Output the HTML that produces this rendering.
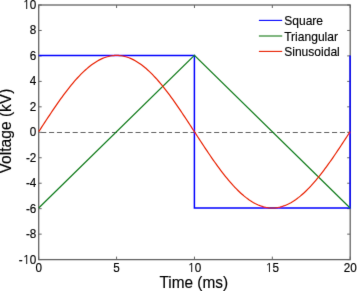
<!DOCTYPE html>
<html><head><meta charset="utf-8"><style>
html,body{margin:0;padding:0;background:#fff;}
svg{display:block;}
.o{font-family:"NanumGothic",sans-serif;}
text{font-family:"Liberation Sans",Arial,sans-serif;fill:#000;stroke:#000;stroke-width:0.15px;}
</style></head><body>
<svg width="357" height="291" viewBox="0 0 357 291">
<defs><filter id="b" x="0" y="0" width="357" height="291" filterUnits="userSpaceOnUse"><feConvolveMatrix order="3" kernelMatrix="0.0052 0.0619 0.0052 0.0619 0.7314 0.0619 0.0052 0.0619 0.0052" edgeMode="duplicate"/></filter></defs>
<rect width="357" height="291" fill="#fff"/>
<g filter="url(#b)">
<line x1="38.7" y1="259.6" x2="38.7" y2="256.6" stroke="#646464"/>
<line x1="38.7" y1="5" x2="38.7" y2="8" stroke="#646464"/>
<line x1="116.58" y1="259.6" x2="116.58" y2="256.6" stroke="#646464"/>
<line x1="116.58" y1="5" x2="116.58" y2="8" stroke="#646464"/>
<line x1="194.45" y1="259.6" x2="194.45" y2="256.6" stroke="#646464"/>
<line x1="194.45" y1="5" x2="194.45" y2="8" stroke="#646464"/>
<line x1="272.32" y1="259.6" x2="272.32" y2="256.6" stroke="#646464"/>
<line x1="272.32" y1="5" x2="272.32" y2="8" stroke="#646464"/>
<line x1="350.2" y1="259.6" x2="350.2" y2="256.6" stroke="#646464"/>
<line x1="350.2" y1="5" x2="350.2" y2="8" stroke="#646464"/>
<line x1="38.7" y1="259.6" x2="41.7" y2="259.6" stroke="#646464"/>
<line x1="350.2" y1="259.6" x2="347.2" y2="259.6" stroke="#646464"/>
<line x1="38.7" y1="234.14" x2="41.7" y2="234.14" stroke="#646464"/>
<line x1="350.2" y1="234.14" x2="347.2" y2="234.14" stroke="#646464"/>
<line x1="38.7" y1="208.68" x2="41.7" y2="208.68" stroke="#646464"/>
<line x1="350.2" y1="208.68" x2="347.2" y2="208.68" stroke="#646464"/>
<line x1="38.7" y1="183.22" x2="41.7" y2="183.22" stroke="#646464"/>
<line x1="350.2" y1="183.22" x2="347.2" y2="183.22" stroke="#646464"/>
<line x1="38.7" y1="157.76" x2="41.7" y2="157.76" stroke="#646464"/>
<line x1="350.2" y1="157.76" x2="347.2" y2="157.76" stroke="#646464"/>
<line x1="38.7" y1="132.3" x2="41.7" y2="132.3" stroke="#646464"/>
<line x1="350.2" y1="132.3" x2="347.2" y2="132.3" stroke="#646464"/>
<line x1="38.7" y1="106.84" x2="41.7" y2="106.84" stroke="#646464"/>
<line x1="350.2" y1="106.84" x2="347.2" y2="106.84" stroke="#646464"/>
<line x1="38.7" y1="81.38" x2="41.7" y2="81.38" stroke="#646464"/>
<line x1="350.2" y1="81.38" x2="347.2" y2="81.38" stroke="#646464"/>
<line x1="38.7" y1="55.92" x2="41.7" y2="55.92" stroke="#646464"/>
<line x1="350.2" y1="55.92" x2="347.2" y2="55.92" stroke="#646464"/>
<line x1="38.7" y1="30.46" x2="41.7" y2="30.46" stroke="#646464"/>
<line x1="350.2" y1="30.46" x2="347.2" y2="30.46" stroke="#646464"/>
<line x1="38.7" y1="5" x2="41.7" y2="5" stroke="#646464"/>
<line x1="350.2" y1="5" x2="347.2" y2="5" stroke="#646464"/>
<rect x="38.7" y="5" width="311.5" height="254.6" fill="none" stroke="#646464" stroke-width="1.3"/>
<line x1="41.2" y1="132.5" x2="350.2" y2="132.5" stroke="#626262" stroke-width="1" stroke-dasharray="5.1,2.76"/>
<polyline fill="none" stroke="#0000ff" stroke-width="1.5" points="38.7,55.38 194.4,55.38 194.4,208.02 350.1,208.02 350.1,55.38"/>
<polyline fill="none" stroke="#0e7a1a" stroke-width="1.2" points="38.7,208.02 194.4,55.38 350.1,208.02"/>
<polyline fill="none" stroke="#e82200" stroke-width="1.2" points="38.7,131.7 40.26,129.3 41.81,126.91 43.37,124.52 44.93,122.13 46.48,119.76 48.04,117.4 49.6,115.05 51.16,112.72 52.71,110.41 54.27,108.12 55.83,105.85 57.38,103.6 58.94,101.39 60.5,99.2 62.06,97.05 63.61,94.93 65.17,92.85 66.73,90.81 68.28,88.8 69.84,86.84 71.4,84.92 72.95,83.05 74.51,81.23 76.07,79.46 77.62,77.73 79.18,76.07 80.74,74.45 82.3,72.89 83.85,71.4 85.41,69.96 86.97,68.58 88.52,67.26 90.08,66.01 91.64,64.82 93.2,63.7 94.75,62.64 96.31,61.66 97.87,60.74 99.42,59.89 100.98,59.12 102.54,58.41 104.09,57.78 105.65,57.22 107.21,56.73 108.77,56.32 110.32,55.98 111.88,55.72 113.44,55.53 114.99,55.42 116.55,55.38 118.11,55.42 119.66,55.53 121.22,55.72 122.78,55.98 124.34,56.32 125.89,56.73 127.45,57.22 129.01,57.78 130.56,58.41 132.12,59.12 133.68,59.89 135.23,60.74 136.79,61.66 138.35,62.64 139.91,63.7 141.46,64.82 143.02,66.01 144.58,67.26 146.13,68.58 147.69,69.96 149.25,71.4 150.8,72.89 152.36,74.45 153.92,76.07 155.48,77.73 157.03,79.46 158.59,81.23 160.15,83.05 161.7,84.92 163.26,86.84 164.82,88.8 166.37,90.81 167.93,92.85 169.49,94.93 171.05,97.05 172.6,99.2 174.16,101.39 175.72,103.6 177.27,105.85 178.83,108.12 180.39,110.41 181.94,112.72 183.5,115.05 185.06,117.4 186.62,119.76 188.17,122.13 189.73,124.52 191.29,126.91 192.84,129.3 194.4,131.7 195.96,134.1 197.51,136.49 199.07,138.88 200.63,141.27 202.19,143.64 203.74,146 205.3,148.35 206.86,150.68 208.41,152.99 209.97,155.28 211.53,157.55 213.08,159.8 214.64,162.01 216.2,164.2 217.75,166.35 219.31,168.47 220.87,170.55 222.43,172.59 223.98,174.6 225.54,176.56 227.1,178.48 228.65,180.35 230.21,182.17 231.77,183.94 233.32,185.67 234.88,187.33 236.44,188.95 238,190.51 239.55,192 241.11,193.44 242.67,194.82 244.22,196.14 245.78,197.39 247.34,198.58 248.89,199.7 250.45,200.76 252.01,201.74 253.57,202.66 255.12,203.51 256.68,204.28 258.24,204.99 259.79,205.62 261.35,206.18 262.91,206.67 264.47,207.08 266.02,207.42 267.58,207.68 269.14,207.87 270.69,207.98 272.25,208.02 273.81,207.98 275.36,207.87 276.92,207.68 278.48,207.42 280.04,207.08 281.59,206.67 283.15,206.18 284.71,205.62 286.26,204.99 287.82,204.28 289.38,203.51 290.93,202.66 292.49,201.74 294.05,200.76 295.61,199.7 297.16,198.58 298.72,197.39 300.28,196.14 301.83,194.82 303.39,193.44 304.95,192 306.5,190.51 308.06,188.95 309.62,187.33 311.18,185.67 312.73,183.94 314.29,182.17 315.85,180.35 317.4,178.48 318.96,176.56 320.52,174.6 322.07,172.59 323.63,170.55 325.19,168.47 326.75,166.35 328.3,164.2 329.86,162.01 331.42,159.8 332.97,157.55 334.53,155.28 336.09,152.99 337.64,150.68 339.2,148.35 340.76,146 342.31,143.64 343.87,141.27 345.43,138.88 346.99,136.49 348.54,134.1 350.1,131.7"/>
<text transform="translate(38.7,272.3) scale(1,1.06)" text-anchor="middle" style="font-size:11.7px">0</text>
<text transform="translate(116.58,272.3) scale(1,1.06)" text-anchor="middle" style="font-size:11.7px">5</text>
<text transform="translate(194.45,272.3) scale(1,1.06)" text-anchor="middle" style="font-size:11.7px"><tspan class="o">1</tspan><tspan dx="-0.6"></tspan>0</text>
<text transform="translate(272.32,272.3) scale(1,1.06)" text-anchor="middle" style="font-size:11.7px"><tspan class="o">1</tspan><tspan dx="-0.6"></tspan>5</text>
<text transform="translate(350.2,272.3) scale(1,1.06)" text-anchor="middle" style="font-size:11.7px">20</text>
<text transform="translate(36.3,263.55) scale(1,1.06)" text-anchor="end" style="font-size:11.7px">-<tspan class="o">1</tspan><tspan dx="-0.6"></tspan>0</text>
<text transform="translate(36.3,238.09) scale(1,1.06)" text-anchor="end" style="font-size:11.7px">-8</text>
<text transform="translate(36.3,212.63) scale(1,1.06)" text-anchor="end" style="font-size:11.7px">-6</text>
<text transform="translate(36.3,187.17) scale(1,1.06)" text-anchor="end" style="font-size:11.7px">-4</text>
<text transform="translate(36.3,161.71) scale(1,1.06)" text-anchor="end" style="font-size:11.7px">-2</text>
<text transform="translate(36.3,136.25) scale(1,1.06)" text-anchor="end" style="font-size:11.7px">0</text>
<text transform="translate(36.3,110.79) scale(1,1.06)" text-anchor="end" style="font-size:11.7px">2</text>
<text transform="translate(36.3,85.33) scale(1,1.06)" text-anchor="end" style="font-size:11.7px">4</text>
<text transform="translate(36.3,59.87) scale(1,1.06)" text-anchor="end" style="font-size:11.7px">6</text>
<text transform="translate(36.3,34.41) scale(1,1.06)" text-anchor="end" style="font-size:11.7px">8</text>
<text transform="translate(36.3,8.95) scale(1,1.06)" text-anchor="end" style="font-size:11.7px"><tspan class="o">1</tspan><tspan dx="-0.6"></tspan>0</text>
<line x1="258.9" y1="20.4" x2="282.2" y2="20.4" stroke="#0000ff" stroke-width="1.1"/>
<text transform="translate(284.2,24.95) scale(1,1.0)" style="font-size:12.05px">Square</text>
<line x1="258.9" y1="36" x2="282.2" y2="36" stroke="#0e7a1a" stroke-width="1.1"/>
<text transform="translate(284.2,40.55) scale(1,1.0)" style="font-size:12.05px">Triangular</text>
<line x1="258.9" y1="51.4" x2="282.2" y2="51.4" stroke="#e82200" stroke-width="1.1"/>
<text transform="translate(284.2,55.95) scale(1,1.0)" style="font-size:12.05px">Sinusoidal</text>
<text transform="translate(193.8,288) scale(1,1.03)" text-anchor="middle" style="font-size:15.4px">Time (ms)</text>
<text transform="translate(11.1,131) rotate(-90) scale(1,1.07)" text-anchor="middle" style="font-size:15.6px">Voltage (kV)</text>
</g>
</svg>
</body></html>
